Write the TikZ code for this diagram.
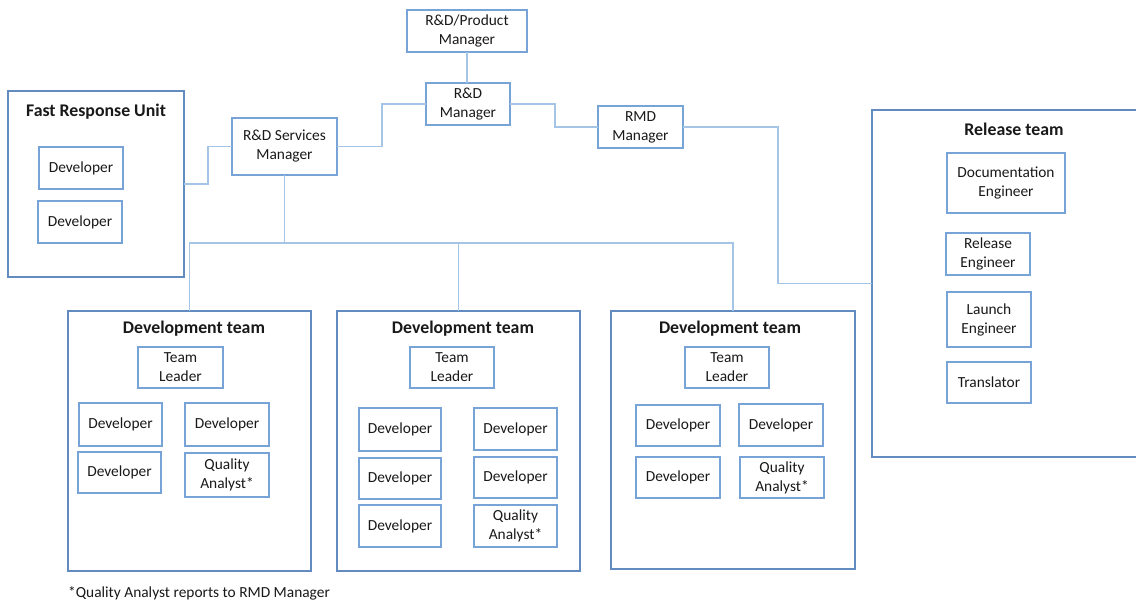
\documentclass[tikz,border=0pt]{standalone}
\usepackage{fontspec}
\setmainfont{Carlito}
\usetikzlibrary{calc}
\definecolor{boxc}{RGB}{120,163,214}
\definecolor{contc}{RGB}{98,140,192}
\definecolor{connc}{RGB}{165,197,230}
\definecolor{txtc}{RGB}{25,25,25}
\tikzset{
  base/.style={draw, anchor=north west, inner sep=0pt, outer sep=0pt, align=center, text=txtc},
  box/.style={base, draw=boxc, line width=1.3pt, font=\fontsize{15.4}{19}\selectfont},
  cont/.style={base, draw=contc, line width=1.3pt},
  title/.style={text=txtc, font=\fontsize{17.8}{20}\selectfont\bfseries, inner sep=0pt},
  conn/.style={draw=connc, line width=1.2pt}
}
\newcommand\bx[7][box]{%
  \pgfmathsetmacro\bw{#5-#3}\pgfmathsetmacro\bh{#6-#4}%
  \node[#1, minimum width=\bw pt, minimum height=\bh pt] (#2) at (#3,#4) {#7};}
\begin{document}
\begin{tikzpicture}[x=1pt,y=-1pt]
\useasboundingbox (0,0) rectangle (1136,611);
\clip (0,0) rectangle (1136,611);
\fill[white] (0,0) rectangle (1136,611);
% managers
\bx{prod}{407}{10}{527}{52}{R\&D/Product\\Manager}
\bx{rdm}{426}{83}{510}{125}{R\&D\\Manager}
\bx{svc}{232}{118}{337}{175}{R\&D Services\\Manager}
\bx{rmd}{598}{106}{683}{148}{RMD\\Manager}
% fast response unit
\bx[cont]{fru}{8}{91}{184}{277}{}
\node[title] (frut) at (96,112) {Fast Response Unit};
\bx{fru1}{39}{147}{123}{189}{Developer}
\bx{fru2}{38}{201}{122}{243}{Developer}
% release team
\bx[cont]{rel}{872}{110}{1142}{457}{}
\node[title] (relt) at (1014,129) {Release team};
\bx{doc}{947}{153}{1065}{213}{Documentation\\Engineer}
\bx{releng}{946}{233}{1030}{275}{Release\\Engineer}
\bx{launch}{947}{292}{1031}{347}{Launch\\Engineer}
\bx{trans}{947}{362}{1031}{403}{Translator}
% team 1
\bx[cont]{ta}{68}{311}{311}{571}{}
\node[title] (tat) at (194,329) {Development team};
\bx{tatl}{138}{347}{223}{388}{Team\\Leader}
\bx{tad1}{79}{403}{162}{446}{Developer}
\bx{tad2}{185}{403}{269}{446}{Developer}
\bx{tad3}{78}{452}{161}{493}{Developer}
\bx{taqa}{185}{453}{269}{497}{Quality\\Analyst*}
% team 2
\bx[cont]{tb}{337}{311}{580}{571}{}
\node[title] (tbt) at (463,329) {Development team};
\bx{tbtl}{410}{347}{494}{388}{Team\\Leader}
\bx{tbd1}{359}{408}{441}{451}{Developer}
\bx{tbd2}{474}{408}{557}{450}{Developer}
\bx{tbd3}{359}{458}{441}{499}{Developer}
\bx{tbd4}{474}{457}{557}{498}{Developer}
\bx{tbd5}{359}{505}{441}{547}{Developer}
\bx{tbqa}{474}{505}{557}{547}{Quality\\Analyst*}
% team 3
\bx[cont]{tc}{611}{311}{855}{569}{}
\node[title] (tct) at (730,329) {Development team};
\bx{tctl}{685}{347}{769}{388}{Team\\Leader}
\bx{tcd1}{636}{405}{720}{446}{Developer}
\bx{tcd2}{739}{404}{823}{446}{Developer}
\bx{tcd3}{636}{457}{720}{498}{Developer}
\bx{tcqa}{740}{457}{824}{498}{Quality\\Analyst*}
% footnote
\node[anchor=west, inner sep=0pt, text=txtc, font=\fontsize{15.4}{18}\selectfont] (note) at (68,593) {*Quality Analyst reports to RMD Manager};
% connectors
\draw[conn] (prod.south) -- (rdm.north -| prod.south);
\draw[conn] (fru.east) -- ++(24,0) |- (svc.west);
\draw[conn] (svc.east) -- ++(45,0) |- (rdm.west);
\draw[conn] (rdm.east) -- ++(45,0) |- (rmd.west);
\draw[conn] (rmd.east) -- ++(95,0) |- (rel.west);
\draw[conn] (svc.south) -- ++(0,68) coordinate (bus);
\draw[conn] (ta.north) |- (bus) -| (tc.north);
\draw[conn] (tb.north) -- (tb.north |- bus);
\end{tikzpicture}
\end{document}
